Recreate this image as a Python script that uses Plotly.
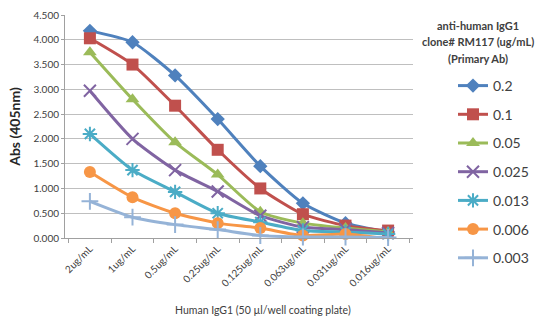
import plotly.graph_objects as go

categories = ["2ug/mL", "1ug/mL", "0.5ug/mL", "0.25ug/mL", "0.125ug/mL",
              "0.063ug/mL", "0.031ug/mL", "0.016ug/mL"]

series_names = ["0.2", "0.1", "0.05", "0.025", "0.013", "0.006", "0.003"]

s_02 = [4.18, 3.95, 3.28, 2.40, 1.45, 0.70, 0.30, 0.12]
s_01 = [4.03, 3.50, 2.67, 1.78, 1.00, 0.48, 0.25, 0.15]
s_005 = [3.75, 2.80, 1.93, 1.28, 0.53, 0.30, 0.20, 0.12]
s_0025 = [2.97, 2.00, 1.37, 0.94, 0.45, 0.22, 0.17, 0.10]
s_0013 = [2.10, 1.37, 0.93, 0.50, 0.32, 0.15, 0.12, 0.08]
s_0006 = [1.33, 0.82, 0.50, 0.30, 0.20, 0.05, 0.08, -0.02]
s_0003 = [0.74, 0.42, 0.27, 0.17, 0.05, 0.02, 0.02, 0.01]

values = [s_02, s_01, s_005, s_0025, s_0013, s_0006, s_0003]
colors = ["#4F81BD", "#C0504D", "#9BBB59", "#8064A2", "#4BACC6", "#F79646", "#95B3D7"]
symbols = ["diamond", "square", "triangle-up", "x-thin", "asterisk", "circle", "cross-thin"]
sizes = [11, 12, 12, 12, 12, 12, 12]

y_ticks = [0, 0.5, 1.0, 1.5, 2.0, 2.5, 3.0, 3.5, 4.0, 4.5]

legend_title_lines = ["anti-human IgG1", "clone# RM117 (ug/mL)", "(Primary Ab)"]
x_title = "Human IgG1 (50 µl/well coating plate)"
y_title = "Abs (405nm)"

FONT = "Lato, 'Open Sans', sans-serif"
W, H = 537, 320

fig = go.Figure()
for i, (name, vals) in enumerate(zip(series_names, values)):
    thin = symbols[i] in ("x-thin", "asterisk", "cross-thin")
    fig.add_trace(go.Scatter(
        x=categories, y=vals, name=name, mode="lines+markers",
        line=dict(color=colors[i], width=3, shape="spline", smoothing=0.6),
        marker=dict(symbol=symbols[i], size=sizes[i], color=colors[i],
                    line=dict(color=colors[i], width=2 if thin else 0)),
        cliponaxis=False, legendgroup=name,
    ))

for k, line in enumerate(legend_title_lines):
    fig.add_annotation(
        text="<b>" + line + "</b>", xref="paper", yref="paper",
        x=(478 - 65) / 348, y=1 - (25 + 16.5 * k - 15) / 223,
        xanchor="center", yanchor="middle", showarrow=False,
        font=dict(size=11, color="#404040", family=FONT),
    )

fig.add_annotation(
    text=x_title, xref="paper", yref="paper",
    x=(263 - 65) / 348, y=1 - (310 - 15) / 223,
    xanchor="center", yanchor="middle", showarrow=False,
    font=dict(size=10.5, color="#404040", family=FONT),
)

fig.update_layout(
    width=W, height=H,
    margin=dict(l=65, r=124, t=15, b=82, autoexpand=False),
    paper_bgcolor="white", plot_bgcolor="white",
    font=dict(family=FONT, color="#404040"),
    showlegend=True,
    legend=dict(
        xref="container", yref="container",
        x=453 / W, y=1 - 70 / H, xanchor="left", yanchor="top",
        font=dict(size=14, color="#404040"),
        tracegroupgap=7.5, itemwidth=30, maxheight=300,
    ),
    xaxis=dict(
        type="category", tickangle=-45, tickfont=dict(size=10, color="#404040"),
        showgrid=False, showline=True, linecolor="#a0a0a0", linewidth=1,
        ticks="outside", ticklen=4, tickcolor="#a0a0a0", tickson="boundaries",
    ),
    yaxis=dict(
        range=[0, 4.5], tickvals=y_ticks, tickformat=".3f",
        tickfont=dict(size=10, color="#404040"),
        showgrid=True, gridcolor="#bfbfbf", gridwidth=1,
        showline=True, linecolor="#a0a0a0", linewidth=1,
        ticks="outside", ticklen=3, tickcolor="#a0a0a0",
        zeroline=False,
        title=dict(text="<b>" + y_title + "</b>", font=dict(size=14, color="#262626"), standoff=9),
    ),
)

fig.write_html("out.html", config={"displayModeBar": False},
               post_script="document.body.style.margin='0';")
